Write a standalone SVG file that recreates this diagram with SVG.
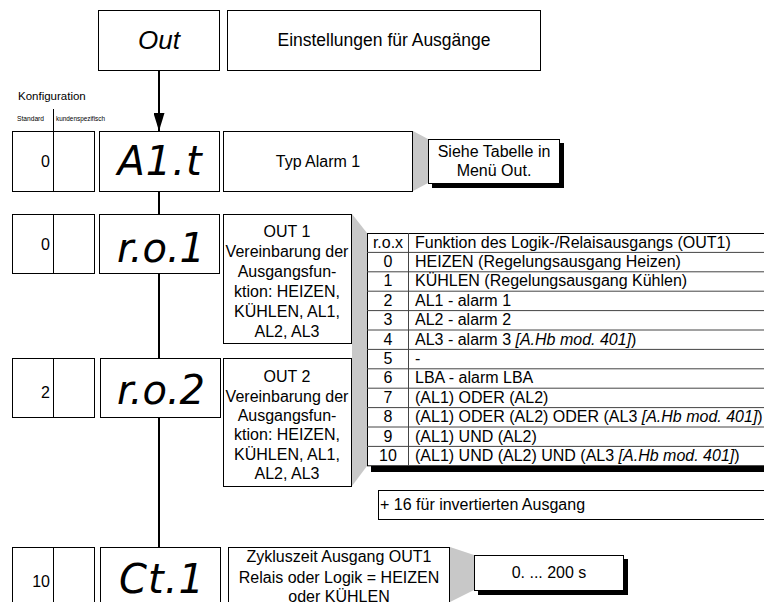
<svg xmlns="http://www.w3.org/2000/svg" width="764" height="602" viewBox="0 0 764 602">
<style>
.box{fill:#fff;stroke:#000;stroke-width:1}
.t{font-family:"Liberation Sans",Arial,sans-serif;font-size:16px;fill:#000}
.c{text-anchor:middle}
.e{text-anchor:end}
.seg{font-family:"DejaVu Sans",sans-serif;font-style:oblique;font-size:40px;fill:#000;text-anchor:middle}
.gray{fill:#c8c8c8}
.tl{stroke:#444;stroke-width:1}
.conn{stroke:#000;stroke-width:2;fill:none}
</style>
<defs>
<marker id="ah2" viewBox="0 0 18 11" refX="18" refY="5.5" markerWidth="18" markerHeight="11" markerUnits="userSpaceOnUse" orient="auto">
<path d="M0,0 L18,5.5 L0,11 z" fill="#000"/>
</marker>
</defs>
<rect width="764" height="602" fill="#fff"/>

<g id="connectors">
<line class="conn" x1="159" y1="70" x2="159" y2="131" marker-end="url(#ah2)"/>
<line class="conn" x1="159" y1="191" x2="159" y2="214"/>
<line class="conn" x1="159" y1="273" x2="159" y2="358"/>
<line class="conn" x1="159" y1="417" x2="159" y2="547"/>
</g>

<g id="out">
<rect class="box" x="98.5" y="10.5" width="121" height="60"/>
<text class="t c" x="159" y="49" style="font-size:26px;font-style:italic">Out</text>
</g>
<g id="einstellungen">
<rect class="box" x="227.5" y="10.5" width="313" height="60"/>
<text class="t c" x="384" y="46" style="font-size:17.5px">Einstellungen für Ausgänge</text>
</g>

<g id="konfiguration">
<text class="t" x="18" y="100" style="font-size:11.5px">Konfiguration</text>
<text class="t" x="17" y="121" textLength="27" lengthAdjust="spacingAndGlyphs" style="font-size:8px">Standard</text>
<text class="t" x="56" y="121" textLength="49" lengthAdjust="spacingAndGlyphs" style="font-size:8px">kundenspezifisch</text>
<line x1="53.5" y1="109" x2="53.5" y2="131" stroke="#000" stroke-width="1"/>
</g>

<g id="cfg1">
<rect class="box" x="12.5" y="131.5" width="82" height="60"/>
<line x1="53.5" y1="131" x2="53.5" y2="191" stroke="#000"/>
<text class="t e" x="50" y="167">0</text>
</g>
<g id="a1t">
<rect class="box" x="99.5" y="131.5" width="120" height="60"/>
<text class="seg" x="160" y="175" letter-spacing="1">A1.t</text>
</g>
<g id="typalarm">
<rect class="box" x="223.5" y="131.5" width="189" height="60"/>
<text class="t c" x="318" y="167">Typ Alarm 1</text>
</g>
<g id="siehe">
<polygon class="gray" points="413,131 428,139 428,183 413,191"/>
<rect x="432" y="143" width="132" height="45" fill="#000"/>
<rect class="box" x="428.5" y="139.5" width="131" height="44"/>
<text class="t c" x="494" y="157">Siehe Tabelle in</text>
<text class="t c" x="494" y="176">Menü Out.</text>
</g>

<g id="cfg2">
<rect class="box" x="12.5" y="214.5" width="82" height="59"/>
<line x1="53.5" y1="214" x2="53.5" y2="273" stroke="#000"/>
<text class="t e" x="50" y="250">0</text>
</g>
<g id="ro1">
<rect class="box" x="99.5" y="214.5" width="120" height="59"/>
<text class="seg" x="161" y="262">r.o.1</text>
</g>

<g id="table">
<polygon class="gray" points="352,214 367,233 367,466 352,486"/>
<rect x="371" y="466" width="393" height="6" fill="#000"/>
<rect x="367.5" y="233.5" width="400" height="232.3" fill="#fff" stroke="#000"/>
<line class="tl" x1="408.5" y1="233" x2="408.5" y2="466"/>
<line class="tl" x1="367" y1="252.4" x2="764" y2="252.4"/>
<line class="tl" x1="367" y1="271.8" x2="764" y2="271.8"/>
<line class="tl" x1="367" y1="291.2" x2="764" y2="291.2"/>
<line class="tl" x1="367" y1="310.6" x2="764" y2="310.6"/>
<line class="tl" x1="367" y1="330" x2="764" y2="330"/>
<line class="tl" x1="367" y1="349.4" x2="764" y2="349.4"/>
<line class="tl" x1="367" y1="368.8" x2="764" y2="368.8"/>
<line class="tl" x1="367" y1="388.2" x2="764" y2="388.2"/>
<line class="tl" x1="367" y1="407.6" x2="764" y2="407.6"/>
<line class="tl" x1="367" y1="427" x2="764" y2="427"/>
<line class="tl" x1="367" y1="446.4" x2="764" y2="446.4"/>
<g class="t">
<text class="c" x="388" y="247.5">r.o.x</text>
<text x="415" y="247.5">Funktion des Logik-/Relaisausgangs (OUT1)</text>
<text class="c" x="388" y="266.9">0</text>
<text x="415" y="266.9">HEIZEN (Regelungsausgang Heizen)</text>
<text class="c" x="388" y="286.3">1</text>
<text x="415" y="286.3">KÜHLEN (Regelungsausgang Kühlen)</text>
<text class="c" x="388" y="305.7">2</text>
<text x="415" y="305.7">AL1 - alarm 1</text>
<text class="c" x="388" y="325.1">3</text>
<text x="415" y="325.1">AL2 - alarm 2</text>
<text class="c" x="388" y="344.5">4</text>
<text x="415" y="344.5">AL3 - alarm 3 <tspan font-style="italic">[A.Hb mod. 401]</tspan>)</text>
<text class="c" x="388" y="363.9">5</text>
<text x="415" y="363.9">-</text>
<text class="c" x="388" y="383.3">6</text>
<text x="415" y="383.3">LBA - alarm LBA</text>
<text class="c" x="388" y="402.7">7</text>
<text x="415" y="402.7">(AL1) ODER (AL2)</text>
<text class="c" x="388" y="422.1">8</text>
<text x="415" y="422.1">(AL1) ODER (AL2) ODER (AL3 <tspan font-style="italic">[A.Hb mod. 401]</tspan>)</text>
<text class="c" x="388" y="441.5">9</text>
<text x="415" y="441.5">(AL1) UND (AL2)</text>
<text class="c" x="388" y="460.9">10</text>
<text x="415" y="460.9">(AL1) UND (AL2) UND (AL3 <tspan font-style="italic">[A.Hb mod. 401]</tspan>)</text>
</g>
</g>

<g id="out1">
<rect class="box" x="223.5" y="214.5" width="128" height="129"/>
<g class="t c">
<text x="287" y="237">OUT 1</text>
<text x="287" y="257">Vereinbarung der</text>
<text x="287" y="277">Ausgangsfun-</text>
<text x="287" y="297">ktion: HEIZEN,</text>
<text x="287" y="317">KÜHLEN, AL1,</text>
<text x="287" y="337">AL2, AL3</text>
</g>
</g>

<g id="cfg3">
<rect class="box" x="12.5" y="358.5" width="82" height="59"/>
<line x1="53.5" y1="358" x2="53.5" y2="417" stroke="#000"/>
<text class="t e" x="50" y="398">2</text>
</g>
<g id="ro2">
<rect class="box" x="100.5" y="358.5" width="120" height="59"/>
<text class="seg" x="161" y="404">r.o.2</text>
</g>
<g id="out2">
<rect class="box" x="223.5" y="358.5" width="128" height="128"/>
<g class="t c">
<text x="287" y="382">OUT 2</text>
<text x="287" y="402">Vereinbarung der</text>
<text x="287" y="421">Ausgangsfun-</text>
<text x="287" y="440">ktion: HEIZEN,</text>
<text x="287" y="460">KÜHLEN, AL1,</text>
<text x="287" y="479">AL2, AL3</text>
</g>
</g>

<g id="invert">
<rect class="box" x="378.5" y="490.5" width="400" height="29"/>
<text class="t" x="380" y="510">+ 16 für invertierten Ausgang</text>
</g>

<g id="cfg4">
<rect class="box" x="12.5" y="547.5" width="82" height="70"/>
<line x1="53.5" y1="547" x2="53.5" y2="602" stroke="#000"/>
<text class="t e" x="50" y="587">10</text>
</g>
<g id="ct1">
<rect class="box" x="100.5" y="547.5" width="120" height="70"/>
<text class="seg" x="162" y="593" letter-spacing="1">Ct.1</text>
</g>
<g id="zyklus">
<polygon class="gray" points="450,547 474,555 474,590 450,602"/>
<rect class="box" x="228.5" y="547.5" width="221" height="70"/>
<g class="t c">
<text x="339" y="562">Zykluszeit Ausgang OUT1</text>
<text x="339" y="583">Relais oder Logik = HEIZEN</text>
<text x="339" y="602">oder KÜHLEN</text>
</g>
</g>
<g id="range">
<rect x="478" y="559" width="150" height="36" fill="#000"/>
<rect class="box" x="474.5" y="555.5" width="149" height="35"/>
<text class="t c" x="549" y="578">0. ... 200 s</text>
</g>
</svg>
